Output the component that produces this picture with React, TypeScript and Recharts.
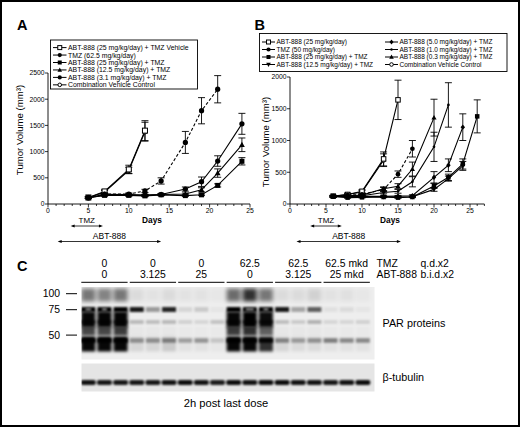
import React from 'react';
import { LineChart, Line, XAxis, YAxis, ErrorBar } from 'recharts';

const FONT = '"Liberation Sans", Arial, Helvetica, sans-serif';

// ---------- Panel A: TMZ 62.5 mg/kg/day study ----------
const daysA = [5, 7, 10, 12, 14, 17, 19, 21, 24];
const aVehicle = [120, 230, 640, 1380];
const aVehicleErr = [15, 30, 60, 180];
const aAbt25Veh = [125, 240, 660, 1400];
const aAbt25VehErr = [15, 30, 80, 190];
const aTmz62 = [120, 190, 190, 250, 440, 1175, 1780, 2190];
const aTmz62Err = [15, 20, 20, 30, 60, 210, 250, 260];
const aAbt25Tmz = [120, 165, 165, 155, 175, 160, 175, 355, 815];
const aAbt25TmzErr = [15, 15, 15, 15, 15, 15, 15, 30, 70];
const aAbt12Tmz = [120, 170, 170, 165, 180, 190, 270, 590, 1130];
const aAbt12TmzErr = [15, 15, 15, 15, 15, 20, 40, 80, 130];
const aAbt3Tmz = [120, 185, 180, 170, 180, 285, 425, 820, 1530];
const aAbt3TmzErr = [15, 15, 15, 15, 20, 40, 90, 100, 200];
const xTicksA = Array.from({ length: 26 }, (_, i) => i);
const yTicksA = [0, 500, 1000, 1500, 2000, 2500];
const tmzWindowA = [2.8, 6.8];
const abtWindowA = [1.2, 14];

// ---------- Panel B: TMZ 50 mg/kg/day study ----------
const daysB = [6, 8, 10, 13, 15, 17, 20, 22, 24, 26];
const bVehicle = [120, 150, 190, 690];
const bVehicleErr = [10, 20, 20, 100];
const bAbt25 = [125, 150, 200, 710, 1640];
const bAbt25Err = [15, 20, 25, 110, 310];
const bTmz50 = [120, 140, 150, 230, 470, 870];
const bTmz50Err = [10, 15, 15, 30, 50, 130];
const bAbt25Tmz = [120, 100, 105, 110, 100, 110, 285, 420, 630, 1380];
const bAbt25TmzErr = [10, 10, 10, 10, 10, 10, 40, 50, 80, 260];
const bAbt12Tmz = [120, 115, 115, 115, 110, 115, 230, 400, 600];
const bAbt12TmzErr = [10, 10, 10, 10, 10, 10, 30, 40, 70];
const bAbt5Tmz = [120, 120, 120, 120, 125, 130, 420, 610, 1210];
const bAbt5TmzErr = [10, 10, 10, 10, 10, 15, 90, 100, 210];
const bAbt1Tmz = [120, 125, 130, 180, 200, 350, 900, 1560];
const bAbt1TmzErr = [10, 10, 10, 20, 30, 80, 230, 350];
const bAbt03Tmz = [120, 130, 140, 240, 280, 550, 1360];
const bAbt03TmzErr = [10, 10, 15, 30, 40, 110, 290];
const xTicksB = Array.from({ length: 28 }, (_, i) => i);
const yTicksB = [0, 500, 1000, 1500, 2000];
const tmzWindowB = [2.8, 7.2];
const abtWindowB = [0.9, 15.4];

// ---------- Panel C: western blot ----------
const groupTmz = ['0', '0', '0', '62.5', '62.5', '62.5 mkd'];
const groupAbt = ['0', '3.125', '25', '0', '3.125', '25 mkd'];
const mwMarkers = ['100', '75', '50'];
const laneSmearTop = [0.5, 0.45, 0.5, 0.08, 0.05, 0.08, 0.05, 0.05, 0.03, 0.55, 0.8, 0.5, 0.08, 0.08, 0.12, 0.05, 0.06, 0.03];
const lane75 = [1, 1, 1, 0.9, 0.35, 0.85, 0.1, 0.15, 0.04, 1, 1, 1, 0.9, 0.3, 0.6, 0.06, 0.08, 0.04];
const laneMid = [0.97, 0.98, 0.98, 0, 0, 0, 0, 0, 0, 0.97, 1, 0.95, 0, 0, 0, 0, 0, 0];
const lane62 = [0.6, 0.6, 0.6, 0.22, 0.2, 0.22, 0.12, 0.1, 0.18, 0.6, 0.6, 0.6, 0.2, 0.15, 0.25, 0.1, 0.1, 0.12];
const laneGap = [0.7, 0.7, 0.75, 0.03, 0.03, 0.03, 0.02, 0.02, 0.02, 0.75, 0.8, 0.6, 0.03, 0.03, 0.03, 0.02, 0.02, 0.02];
const lane48 = [1, 1, 1, 0.35, 0.35, 0.4, 0.3, 0.35, 0.15, 1, 1, 0.95, 0.4, 0.3, 0.35, 0.45, 0.4, 0.4];
const lane48Smear = [0.97, 0.97, 0.97, 0.1, 0.1, 0.15, 0.05, 0.05, 0.03, 0.97, 0.97, 0.8, 0.1, 0.08, 0.08, 0.05, 0.05, 0.05];
const laneTubulin = [0.92, 0.9, 0.9, 0.9, 0.9, 0.92, 0.95, 0.92, 0.88, 0.95, 0.92, 0.95, 0.95, 0.92, 0.92, 0.9, 0.92, 0.95];
const laneHighlight = [0.7, 0.6, 0, 0, 0, 0, 0, 0, 0, 0, 1, 0.6, 0, 0, 0, 0, 0, 0];

type MarkerType = 'openSquare' | 'filledSquare' | 'filledCircle' | 'openCircle' | 'triUp' | 'triDown' | 'diamond' | 'small';
type Pt = { day: number; v: number; err: number };
type Series = { name: string; data: Pt[]; marker: MarkerType; dashed?: boolean };

const pts = (days: number[], vals: number[], errs: number[]): Pt[] =>
  vals.map((v, i) => ({ day: days[i], v, err: errs[i] }));

// legend order
const seriesA: Series[] = [
  { name: 'ABT-888 (25 mg/kg/day) + TMZ Vehicle', data: pts(daysA, aAbt25Veh, aAbt25VehErr), marker: 'openSquare' },
  { name: 'TMZ (62.5 mg/kg/day)', data: pts(daysA, aTmz62, aTmz62Err), marker: 'filledCircle', dashed: true },
  { name: 'ABT-888 (25 mg/kg/day) + TMZ', data: pts(daysA, aAbt25Tmz, aAbt25TmzErr), marker: 'filledSquare' },
  { name: 'ABT-888 (12.5 mg/kg/day) + TMZ', data: pts(daysA, aAbt12Tmz, aAbt12TmzErr), marker: 'triUp' },
  { name: 'ABT-888 (3.1 mg/kg/day) + TMZ', data: pts(daysA, aAbt3Tmz, aAbt3TmzErr), marker: 'filledCircle' },
  { name: 'Combination Vehicle Control', data: pts(daysA, aVehicle, aVehicleErr), marker: 'openCircle' },
];

const seriesB: Series[] = [
  { name: 'ABT-888 (25 mg/kg/day)', data: pts(daysB, bAbt25, bAbt25Err), marker: 'openSquare' },
  { name: 'TMZ (50 mg/kg/day)', data: pts(daysB, bTmz50, bTmz50Err), marker: 'filledCircle', dashed: true },
  { name: 'ABT-888 (25 mg/kg/day) + TMZ', data: pts(daysB, bAbt25Tmz, bAbt25TmzErr), marker: 'filledSquare' },
  { name: 'ABT-888 (12.5 mg/kg/day) + TMZ', data: pts(daysB, bAbt12Tmz, bAbt12TmzErr), marker: 'triDown' },
  { name: 'ABT-888 (5.0 mg/kg/day) + TMZ', data: pts(daysB, bAbt5Tmz, bAbt5TmzErr), marker: 'diamond' },
  { name: 'ABT-888 (1.0 mg/kg/day) + TMZ', data: pts(daysB, bAbt1Tmz, bAbt1TmzErr), marker: 'small' },
  { name: 'ABT-888 (0.3 mg/kg/day) + TMZ', data: pts(daysB, bAbt03Tmz, bAbt03TmzErr), marker: 'triUp' },
  { name: 'Combination Vehicle Control', data: pts(daysB, bVehicle, bVehicleErr), marker: 'openCircle' },
];

// draw vehicle first so the open squares sit on top
const drawOrder = (s: Series[]) => [s[s.length - 1], ...s.slice(0, s.length - 1)];

function Marker({ type, cx, cy, s = 1 }: { type: MarkerType; cx: number; cy: number; s?: number }) {
  const k = 2.5 * s;
  switch (type) {
    case 'openSquare':
      return <rect x={cx - k} y={cy - k} width={2 * k} height={2 * k} fill="#fff" stroke="#000" strokeWidth={1} />;
    case 'filledSquare':
      return <rect x={cx - k} y={cy - k} width={2 * k} height={2 * k} fill="#000" />;
    case 'filledCircle':
      return <circle cx={cx} cy={cy} r={k * 1.05} fill="#000" />;
    case 'openCircle':
      return <circle cx={cx} cy={cy} r={k * 0.9} fill="#fff" stroke="#000" strokeWidth={1} />;
    case 'triUp':
      return <polygon points={`${cx},${cy - k * 1.2} ${cx + k * 1.15},${cy + k * 0.85} ${cx - k * 1.15},${cy + k * 0.85}`} fill="#000" />;
    case 'triDown':
      return <polygon points={`${cx},${cy + k * 1.2} ${cx + k * 1.15},${cy - k * 0.85} ${cx - k * 1.15},${cy - k * 0.85}`} fill="#000" />;
    case 'diamond':
      return <polygon points={`${cx},${cy - k * 1.2} ${cx + k},${cy} ${cx},${cy + k * 1.2} ${cx - k},${cy}`} fill="#000" />;
    default:
      return <circle cx={cx} cy={cy} r={k * 0.6} fill="#000" />;
  }
}

const xTick = (fs: number) => (props: any) => {
  const { x, y, payload } = props;
  const major = payload.value % 5 === 0;
  return (
    <g>
      <line x1={x} x2={x} y1={y} y2={y + (major ? 3.5 : 2)} stroke="#000" strokeWidth={0.8} />
      {major && (
        <text x={x} y={y + 9} textAnchor="middle" fontSize={fs} fontFamily={FONT} fill="#000">
          {payload.value}
        </text>
      )}
    </g>
  );
};

const yTick = (fs: number) => (props: any) => {
  const { x, y, payload } = props;
  return (
    <g>
      <line x1={x - 3} x2={x} y1={y} y2={y} stroke="#000" strokeWidth={0.8} />
      <text x={x - 3.5} y={y + 2.4} textAnchor="end" fontSize={fs} fontFamily={FONT} fill="#000">
        {payload.value}
      </text>
    </g>
  );
};

function TumorChart({ series, width, height, top, right, yWidth, xMax, xTicks, yMax, yTicks, s }: any) {
  return (
    <LineChart width={width} height={height} margin={{ top, right, bottom: 0, left: 0 }}>
      <XAxis
        type="number"
        dataKey="day"
        domain={[0, xMax]}
        ticks={xTicks}
        interval={0}
        tickSize={0}
        tickMargin={0}
        tickLine={false}
        tick={xTick(6.8)}
        height={20}
        axisLine={{ stroke: '#000', strokeWidth: 0.9 }}
        allowDataOverflow
      />
      <YAxis
        type="number"
        domain={[0, yMax]}
        ticks={yTicks}
        interval={0}
        tickSize={0}
        tickMargin={0}
        tickLine={false}
        tick={yTick(6.8)}
        width={yWidth}
        axisLine={{ stroke: '#000', strokeWidth: 0.9 }}
        allowDataOverflow
      />
      {drawOrder(series).map((sr: Series) => (
        <Line
          key={sr.name + sr.marker}
          data={sr.data}
          dataKey="v"
          stroke="#000"
          strokeWidth={1.1}
          strokeDasharray={sr.dashed ? '3 2' : undefined}
          activeDot={false}
          isAnimationActive={false}
          dot={(p: any) => <Marker key={`${sr.name}-${p.index}`} type={sr.marker} cx={p.cx} cy={p.cy} s={s} />}
        >
          <ErrorBar dataKey="err" direction="y" width={3.5} stroke="#000" strokeWidth={0.9} isAnimationActive={false} />
        </Line>
      ))}
    </LineChart>
  );
}

// plot geometry (matches chart margins below)
const geoA = { left: 48, width: 202, xMax: 25 };
const geoB = { left: 290, width: 194.4, xMax: 27 };
const dayToX = (g: typeof geoA, d: number) => g.left + (d / g.xMax) * g.width;

function Arrow({ x1, x2, y }: { x1: number; x2: number; y: number }) {
  return (
    <g>
      <line x1={x1 + 2} x2={x2 - 2} y1={y} y2={y} stroke="#000" strokeWidth={0.8} />
      <polygon points={`${x1},${y} ${x1 + 4},${y - 1.6} ${x1 + 4},${y + 1.6}`} fill="#000" />
      <polygon points={`${x2},${y} ${x2 - 4},${y - 1.6} ${x2 - 4},${y + 1.6}`} fill="#000" />
    </g>
  );
}

function Treatment({ g, tmz, abt }: { g: typeof geoA; tmz: number[]; abt: number[] }) {
  const t1 = dayToX(g, tmz[0]);
  const t2 = dayToX(g, tmz[1]);
  const a1 = dayToX(g, abt[0]);
  const a2 = dayToX(g, abt[1]);
  return (
    <g fontFamily={FONT}>
      <text x={(t1 + t2) / 2} y={223} textAnchor="middle" fontSize={8}>TMZ</text>
      <Arrow x1={t1} x2={t2} y={226} />
      <text x={(a1 + a2) / 2} y={238.5} textAnchor="middle" fontSize={8.5}>ABT-888</text>
      <Arrow x1={a1} x2={a2} y={241.5} />
    </g>
  );
}

function LegendEntry({ x, y, sr, fs, lineW }: { x: number; y: number; sr: Series; fs: number; lineW: number }) {
  return (
    <g>
      <line x1={x} x2={x + lineW} y1={y} y2={y} stroke="#000" strokeWidth={1} />
      <Marker type={sr.marker} cx={x + lineW / 2} cy={y} s={0.8} />
      <text x={x + lineW + 1.5} y={y + fs * 0.36} fontSize={fs} fontFamily={FONT} fill="#000">
        {sr.name}
      </text>
    </g>
  );
}

const laneX = (i: number) => 88.3 + i * 16.15;
const LANE_W = 14;
const parLayout = [
  { vals: laneSmearTop, y: 295, h: 13, blur: 2 },
  { vals: laneMid, y: 319.5, h: 16, blur: 1.5 },
  { vals: laneGap, y: 331, h: 9, blur: 1.5 },
  { vals: lane48Smear, y: 344, h: 15, blur: 1.5 },
  { vals: lane75, y: 309.5, h: 5, blur: 0.8 },
  { vals: lane62, y: 322, h: 4, blur: 0.9 },
  { vals: lane48, y: 340.5, h: 4.5, blur: 0.9 },
];

function Blot() {
  return (
    <g>
      <defs>
        {[0.8, 0.9, 1.5, 2].map((b) => (
          <filter key={b} id={`blur${String(b).replace('.', '_')}`} filterUnits="userSpaceOnUse" x={0} y={0} width={520} height={427}>
            <feGaussianBlur stdDeviation={b} />
          </filter>
        ))}
        <clipPath id="parClip"><rect x={81.5} y={287} width={293} height={72.5} /></clipPath>
        <clipPath id="tubClip"><rect x={81.5} y={363.5} width={293} height={28} /></clipPath>
      </defs>
      <rect x={81.5} y={287} width={293} height={72.5} fill="#eeeeee" />
      <g clipPath="url(#parClip)">
        {parLayout.map((b, bi) => (
          <g key={bi} filter={`url(#blur${String(b.blur).replace('.', '_')})`}>
            {b.vals.map((v, i) => (
              <rect key={i} x={laneX(i) - LANE_W / 2} y={b.y - b.h / 2} width={LANE_W} height={b.h} fill="#000" opacity={v} />
            ))}
          </g>
        ))}
        <g filter="url(#blur0_8)">
          {laneHighlight.map((v, i) =>
            v > 0 ? <rect key={i} x={laneX(i) - 4 * v} y={308.7} width={8 * v} height={1.3} fill="#fff" opacity={0.9} /> : null
          )}
        </g>
      </g>
      <rect x={81.5} y={363.5} width={293} height={28} fill="#e5e5e5" />
      <g clipPath="url(#tubClip)" filter="url(#blur0_8)">
        {laneTubulin.map((v, i) => (
          <rect key={i} x={laneX(i) - LANE_W / 2 - 0.5} y={380} width={LANE_W + 1} height={5} rx={2} fill="#000" opacity={v} />
        ))}
      </g>
    </g>
  );
}

function Overlay() {
  const legA = { x: 53, y: 47.6, dy: 7.45 };
  const legB = { y: 42, dy: 7.5 };
  return (
    <svg width={520} height={427} style={{ position: 'absolute', left: 0, top: 0 }}>
      <rect x={0} y={0} width={520} height={427} fill="#fff" />
      <rect x={1} y={1} width={518} height={425} fill="none" stroke="#000" strokeWidth={2} />
      <g fontFamily={FONT} fill="#000">
        <text x={17} y={29.5} fontSize={14.5} fontWeight="bold">A</text>
        <text x={254.5} y={29.5} fontSize={14.5} fontWeight="bold">B</text>
        <text x={17} y={271} fontSize={14.5} fontWeight="bold">C</text>

        <text transform="rotate(-90)" x={-130} y={22.5} textAnchor="middle" fontSize={9.6}>Tumor Volume (mm³)</text>
        <text transform="rotate(-90)" x={-142} y={268.5} textAnchor="middle" fontSize={9.6}>Tumor Volume (mm³)</text>

        <text x={152} y={223} textAnchor="middle" fontSize={8.3} fontWeight="bold">Days</text>
        <text x={390} y={223} textAnchor="middle" fontSize={8.3} fontWeight="bold">Days</text>
      </g>
      <Treatment g={geoA} tmz={tmzWindowA} abt={abtWindowA} />
      <Treatment g={geoB} tmz={tmzWindowB} abt={abtWindowB} />

      {/* legend A */}
      <rect x={50.5} y={40} width={147} height={49} fill="#fff" stroke="#000" strokeWidth={0.9} />
      {seriesA.map((sr, i) => (
        <LegendEntry key={i} x={legA.x} y={legA.y + i * legA.dy} sr={sr} fs={6.9} lineW={13.5} />
      ))}

      {/* legend B */}
      <rect x={259.5} y={33.5} width={247.5} height={38} fill="#fff" stroke="#000" strokeWidth={0.9} />
      {seriesB.map((sr, i) => (
        <LegendEntry
          key={i}
          x={i < 4 ? 262 : 385}
          y={legB.y + (i % 4) * legB.dy}
          sr={sr}
          fs={6.5}
          lineW={13}
        />
      ))}

      {/* panel C */}
      <g fontFamily={FONT} fill="#000" fontSize={10.4}>
        {groupTmz.map((t, g) => {
          const c = laneX(g * 3 + 1);
          return (
            <g key={g}>
              <text x={c} y={267.3} textAnchor="middle">{t}</text>
              <text x={c} y={278.3} textAnchor="middle">{groupAbt[g]}</text>
              <line x1={laneX(g * 3) - 7} x2={laneX(g * 3 + 2) + 7} y1={282.3} y2={282.3} stroke="#000" strokeWidth={1} />
            </g>
          );
        })}
        <text x={376.5} y={267.3}>TMZ</text>
        <text x={376.5} y={278.3}>ABT-888</text>
        <text x={420.5} y={267.3}>q.d.x2</text>
        <text x={420.5} y={278.3}>b.i.d.x2</text>
        {mwMarkers.map((m, i) => {
          const by = [297.3, 313.3, 338.7][i];
          return (
            <g key={m}>
              <text x={60} y={by} textAnchor="end">{m}</text>
              <line x1={66} x2={77} y1={by - 3.6} y2={by - 3.6} stroke="#000" strokeWidth={1} />
            </g>
          );
        })}
        <text x={382.5} y={327.3} fontSize={10.8}>PAR proteins</text>
        <text x={382.5} y={380.7} fontSize={10.8}>β-tubulin</text>
        <text x={226} y={406.7} textAnchor="middle" fontSize={11.2}>2h post last dose</text>
      </g>
      <Blot />
    </svg>
  );
}

export default function App() {
  return (
    <div style={{ position: 'absolute', left: 0, top: 0, width: 520, height: 427, background: '#fff', overflow: 'hidden' }}>
      <Overlay />
      <div style={{ position: 'absolute', left: 0, top: 0 }}>
        <TumorChart
          series={seriesA}
          width={262}
          height={224}
          top={73}
          right={12}
          yWidth={48}
          xMax={geoA.xMax}
          xTicks={xTicksA}
          yMax={2500}
          yTicks={yTicksA}
          s={1}
        />
      </div>
      <div style={{ position: 'absolute', left: 250, top: 0 }}>
        <TumorChart
          series={seriesB}
          width={250}
          height={224}
          top={77}
          right={15.6}
          yWidth={40}
          xMax={geoB.xMax}
          xTicks={xTicksB}
          yMax={2000}
          yTicks={yTicksB}
          s={0.9}
        />
      </div>
    </div>
  );
}
